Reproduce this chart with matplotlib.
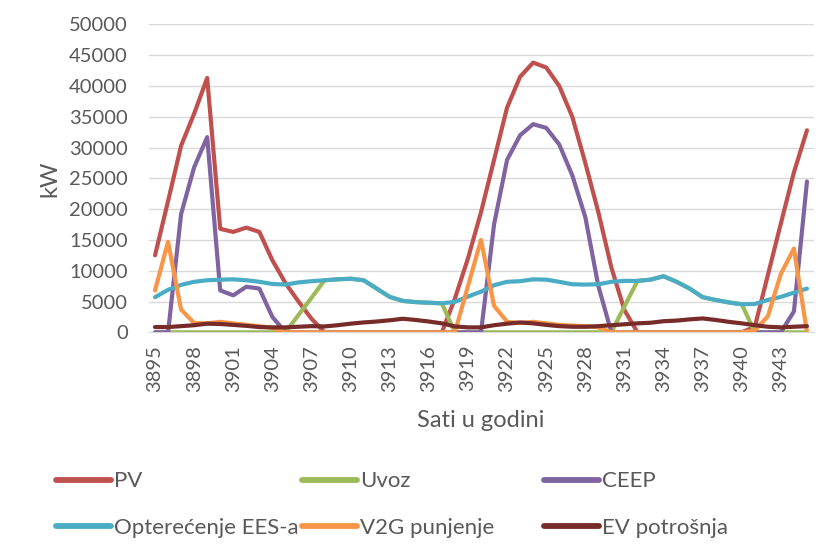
import matplotlib
matplotlib.use("Agg")
import matplotlib.pyplot as plt
from matplotlib.lines import Line2D

# Hour of the year
hours = list(range(3895, 3946))

# Power flows in kW, one value per hour
pv = [12500, 21300, 30300, 35500, 41300, 16800, 16300, 17000, 16300, 11700,
      8000, 5000, 2200, 0, 0, 0, 0, 0, 0, 0,
      0, 0, 0, 5500, 12000, 19500, 28000, 36500, 41500, 43800,
      43000, 40000, 35000, 27500, 19500, 10500, 3600, 0, 0, 0,
      0, 0, 0, 0, 0, 0, 900, 9300, 17700, 26000,
      32800]

opterecenje = [5700, 6900, 7700, 8200, 8450, 8550, 8600, 8450, 8200, 7850,
               7750, 8100, 8300, 8450, 8600, 8700, 8450, 7100, 5750, 5100,
               4900, 4800, 4700, 4950, 5800, 6600, 7650, 8200, 8300, 8600,
               8550, 8200, 7800, 7750, 7800, 8200, 8350, 8350, 8550, 9100,
               8200, 7100, 5700, 5250, 4850, 4550, 4600, 5250, 5750, 6450,
               7100]

uvoz = [0, 0, 0, 0, 0, 0, 0, 0, 0, 0,
        0, 2800, 5600, 8450, 8600, 8700, 8450, 7100, 5750, 5100,
        4900, 4800, 4700, 0, 0, 0, 0, 0, 0, 0,
        0, 0, 0, 0, 0, 0, 4200, 8350, 8550, 9100,
        8200, 7100, 5700, 5250, 4850, 4550, 0, 0, 0, 0,
        0]

ceep = [0, 0, 19200, 26800, 31700, 6800, 6000, 7400, 7100, 2500,
        0, 0, 0, 0, 0, 0, 0, 0, 0, 0,
        0, 0, 0, 0, 0, 0, 17500, 28000, 32000, 33800,
        33200, 30500, 25500, 18700, 7500, 0, 0, 0, 0, 0,
        0, 0, 0, 0, 0, 0, 0, 0, 0, 3400,
        24500]

v2g = [6800, 14700, 3700, 1500, 1450, 1700, 1450, 1200, 1000, 700,
       0, 0, 0, 0, 0, 0, 0, 0, 0, 0,
       0, 0, 0, 0, 7500, 15000, 4300, 1700, 1500, 1700,
       1450, 1200, 1100, 1000, 800, 0, 0, 0, 0, 0,
       0, 0, 0, 0, 0, 0, 300, 2600, 9500, 13600,
       0]

ev = [850, 850, 1000, 1150, 1400, 1350, 1200, 1050, 850, 800,
      800, 900, 1000, 950, 1150, 1400, 1600, 1750, 1950, 2200,
      2000, 1750, 1450, 950, 800, 800, 1150, 1400, 1600, 1450,
      1200, 1000, 900, 900, 1000, 1150, 1300, 1450, 1550, 1800,
      1900, 2100, 2250, 2000, 1700, 1450, 1150, 900, 800, 900,
      1000]

series_names = ["PV", "Uvoz", "CEEP", "Opterećenje EES-a", "V2G punjenje", "EV potrošnja"]
series_values = [pv, uvoz, ceep, opterecenje, v2g, ev]
series_colors = ["#C0504D", "#9BBB59", "#8064A2", "#4BACC6", "#F79646", "#772C2A"]

y_ticks = list(range(0, 50001, 5000))
x_tick_hours = hours[::3]

text_color = "#595959"
plt.rcParams["font.family"] = ["Lato", "DejaVu Sans"]

W, H = 818, 550
fig = plt.figure(figsize=(W / 100, H / 100), dpi=100)
fig.patch.set_facecolor("white")

left, right, bottom, top = 148.5, 813.5, 332.3, 24.4
ax = fig.add_axes([left / W, 1 - bottom / H, (right - left) / W, (bottom - top) / H])

for name, vals, col in zip(series_names, series_values, series_colors):
    ax.plot(hours, vals, color=col, lw=3.0, solid_joinstyle="round",
            solid_capstyle="round", label=name, zorder=3)

ax.set_xlim(hours[0] - 0.5, hours[-1] + 0.5)
ax.set_ylim(0, 50000)
ax.set_yticks(y_ticks)
ax.set_yticklabels([str(t) for t in y_ticks])
ax.set_xticks(x_tick_hours)
ax.set_xticklabels([str(h) for h in x_tick_hours], rotation=90)

ax.grid(axis="y", color="#D9D9D9", lw=1.0, zorder=0)
ax.set_axisbelow(True)
for side in ["left", "right", "top"]:
    ax.spines[side].set_visible(False)
ax.spines["bottom"].set_color("#D9D9D9")
ax.tick_params(axis="both", length=0, labelsize=14.5, colors=text_color)
ax.tick_params(axis="y", pad=15)
ax.tick_params(axis="x", pad=9)

ax.set_ylabel("kW", fontsize=17, color=text_color, labelpad=6)
ax.set_xlabel("Sati u godini", fontsize=17, color=text_color, labelpad=13)

# Legend laid out as two rows of three equally spaced columns
col_x = [56, 302, 544]
for c in range(3):
    handles = [Line2D([], [], color=series_colors[c], lw=4.2, solid_capstyle="round"),
               Line2D([], [], color=series_colors[c + 3], lw=4.2, solid_capstyle="round")]
    labels = [series_names[c], series_names[c + 3]]
    fig.legend(handles, labels, loc="center left",
               bbox_to_anchor=(col_x[c] / W, 1 - 504.5 / H),
               frameon=False, fontsize=16, handlelength=2.48,
               handletextpad=0.15, labelspacing=1.18, borderpad=0,
               borderaxespad=0, labelcolor=text_color)

fig.savefig("out.png", dpi=100, facecolor="white")
